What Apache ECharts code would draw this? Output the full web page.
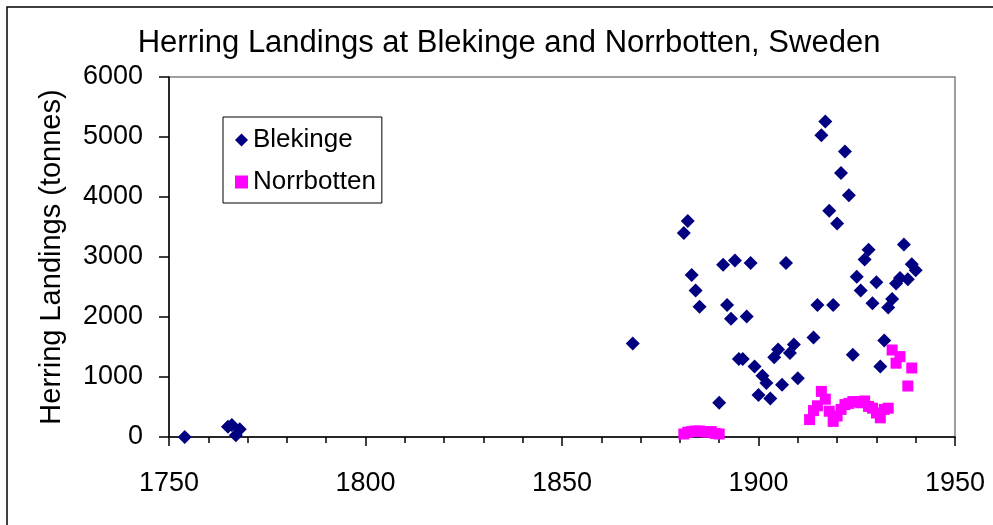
<!DOCTYPE html>
<html>
<head>
<meta charset="utf-8">
<title>Herring Landings</title>
<script src="https://cdn.jsdelivr.net/npm/echarts@6/dist/echarts.min.js"></script>
<style>
  html, body { margin: 0; padding: 0; background: #fff; }
  #main { width: 993px; height: 525px; }
</style>
</head>
<body>
<div id="main"></div>
<script>
// Blekinge landings (year, tonnes)
var blekYears = [1754, 1765, 1766, 1767, 1768, 1868,
  1881, 1882, 1883, 1884, 1885, 1890, 1891, 1892, 1893, 1894, 1895, 1896, 1897, 1898, 1899,
  1900, 1901, 1902, 1903, 1904, 1905, 1906, 1907, 1908, 1909, 1910, 1914, 1915, 1916, 1917,
  1918, 1919, 1920, 1921, 1922, 1923, 1924, 1925, 1926, 1927, 1928, 1929, 1930, 1931, 1932,
  1933, 1934, 1935, 1936, 1937, 1938, 1939, 1940];
var blekValues = [0, 170, 200, 30, 130, 1560,
  3400, 3600, 2700, 2440, 2170, 570, 2870, 2200, 1970, 2940, 1300, 1300, 2010, 2900, 1175,
  700, 1020, 900, 640, 1330, 1460, 870, 2900, 1400, 1540, 980, 1660, 2200, 5030, 5260,
  3770, 2200, 3560, 4400, 4760, 4030, 1370, 2670, 2440, 2960, 3120, 2230, 2580, 1175, 1610,
  2160, 2300, 2560, 2650, 3210, 2630, 2880, 2780];

// Norrbotten landings (year, tonnes)
var norrYears = [1881, 1882, 1883, 1884, 1885, 1886, 1887, 1888, 1889, 1890,
  1913, 1914, 1915, 1916, 1917, 1918, 1919, 1920, 1921, 1922, 1923, 1924, 1925, 1926,
  1927, 1928, 1929, 1930, 1931, 1932, 1933, 1934, 1935, 1936, 1938, 1939];
var norrValues = [50, 80, 90, 100, 100, 90, 80, 90, 60, 50,
  290, 440, 520, 760, 630, 430, 260, 350, 460, 540, 560, 590, 590, 570,
  600, 510, 480, 400, 320, 460, 480, 1450, 1230, 1340, 850, 1150];

var titleText = 'Herring Landings at Blekinge and Norrbotten, Sweden';
var yAxisTitle = 'Herring Landings (tonnes)';

function pairs(xs, ys) {
  var out = [];
  for (var i = 0; i < xs.length; i++) out.push([xs[i], ys[i]]);
  return out;
}
function plain(v) { return String(v); }

var font = 'Liberation Sans, Arial, sans-serif';
var chart = echarts.init(document.getElementById('main'), null, { renderer: 'canvas' });

var option = {
  backgroundColor: '#fff',
  animation: false,
  grid: {
    left: 169, right: 38, top: 77, bottom: 88,
    show: true, borderColor: '#808080', borderWidth: 1.5, backgroundColor: 'transparent'
  },
  legend: {
    orient: 'vertical',
    left: 223, top: 117,
    padding: [10, 6, 8, 12],
    itemGap: 16,
    itemWidth: 13, itemHeight: 13,
    borderColor: '#000', borderWidth: 1,
    textStyle: { fontFamily: font, fontSize: 26, color: '#000', lineHeight: 25 },
    data: ['Blekinge', 'Norrbotten']
  },
  xAxis: {
    type: 'value',
    min: 1750, max: 1950, interval: 50,
    axisLine: { show: true, lineStyle: { color: '#000', width: 1.5 } },
    axisTick: { show: true, length: 9, lineStyle: { color: '#000', width: 1.5 } },
    minorTick: { show: true, splitNumber: 5, length: 6, lineStyle: { color: '#000', width: 1.5 } },
    splitLine: { show: false },
    axisLabel: { margin: 33, fontFamily: font, fontSize: 27, color: '#000', formatter: plain }
  },
  yAxis: {
    type: 'value',
    min: 0, max: 6000, interval: 1000,
    axisLine: { show: true, lineStyle: { color: '#000', width: 1.5 } },
    axisTick: { show: true, length: 10, lineStyle: { color: '#000', width: 1.5 } },
    splitLine: { show: false },
    axisLabel: { margin: 26, fontFamily: font, fontSize: 27, color: '#000', formatter: plain }
  },
  series: [
    {
      name: 'Blekinge', type: 'scatter',
      symbol: 'diamond', symbolSize: 14,
      itemStyle: { color: '#000080', opacity: 1 },
      data: pairs(blekYears, blekValues)
    },
    {
      name: 'Norrbotten', type: 'scatter',
      symbol: 'rect', symbolSize: 11,
      itemStyle: { color: '#ff00ff', opacity: 1 },
      data: pairs(norrYears, norrValues)
    }
  ],
  graphic: [
    {
      type: 'rect', z: -1, silent: true,
      shape: { x: 7, y: 7, width: 1000, height: 530 },
      style: { fill: 'none', stroke: '#000', lineWidth: 1.5 }
    },
    {
      type: 'text', x: 509, y: 43,
      style: { text: titleText, fontFamily: font, fontSize: 31, fill: '#000',
        textAlign: 'center', textVerticalAlign: 'middle' }
    },
    {
      type: 'text', x: 52, y: 257, rotation: Math.PI / 2,
      style: { text: yAxisTitle, fontFamily: font, fontSize: 29, fill: '#000',
        textAlign: 'center', textVerticalAlign: 'middle' }
    }
  ]
};
chart.setOption(option);
</script>
</body>
</html>
